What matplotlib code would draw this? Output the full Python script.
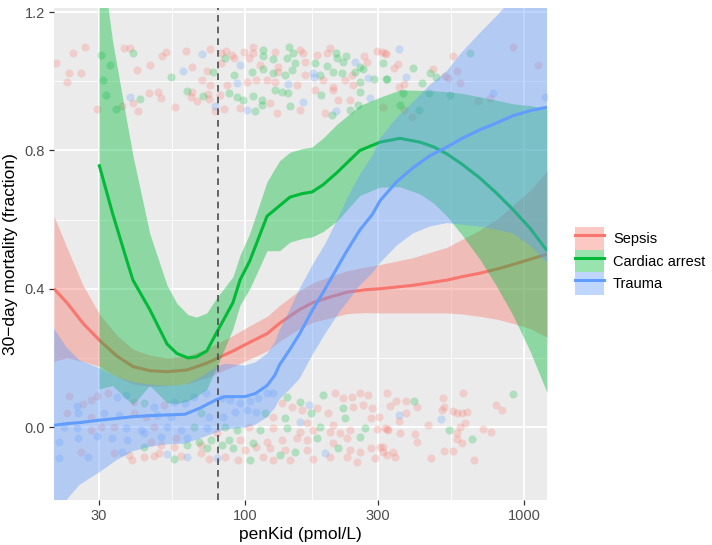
import matplotlib
matplotlib.use("Agg")
import matplotlib.pyplot as plt
from matplotlib.patches import Patch
from matplotlib.lines import Line2D
from matplotlib.ticker import FixedLocator, NullFormatter

plt.rcParams['font.family'] = ['Liberation Sans', 'DejaVu Sans']

groups = ["Sepsis", "Cardiac arrest", "Trauma"]
colors = ["#F8766D", "#00BA38", "#619CFF"]
cutoff = 80

# loess fits: x, fitted value, half width of the band
sepsis_x = [20.7, 23.0, 26.3, 30.2, 34.8, 39.7, 45.6, 52.6, 62.0, 73.1, 90.6, 104, 120, 133,
            157, 175, 200, 232, 270, 305, 400, 529, 600, 695, 800, 910, 1050, 1208]
sepsis_fit = [0.40, 0.36, 0.30, 0.25, 0.205, 0.175, 0.163, 0.16, 0.165, 0.185, 0.22, 0.245,
              0.27, 0.30, 0.34, 0.36, 0.375, 0.39, 0.397, 0.40, 0.41, 0.425, 0.435, 0.445,
              0.457, 0.47, 0.485, 0.50]
sepsis_se = [0.21, 0.16, 0.11, 0.075, 0.06, 0.05, 0.045, 0.04, 0.04, 0.042, 0.045, 0.048,
             0.05, 0.052, 0.055, 0.057, 0.06, 0.062, 0.066, 0.07, 0.08, 0.095, 0.108, 0.125,
             0.145, 0.17, 0.2, 0.24]

cardiac_x = [30, 33.5, 37.8, 39.7, 45.6, 52.6, 57, 62.5, 67, 73, 79.4, 90.6, 96, 104, 120, 133,
             145, 160, 174, 190, 213, 258, 305, 359, 424, 475, 529, 600, 695, 800, 910, 1050,
             1208]
cardiac_fit = [0.76, 0.62, 0.48, 0.425, 0.34, 0.24, 0.213, 0.20, 0.203, 0.22, 0.275, 0.36,
               0.425, 0.48, 0.61, 0.64, 0.665, 0.675, 0.68, 0.70, 0.735, 0.80, 0.824, 0.835,
               0.824, 0.81, 0.79, 0.76, 0.72, 0.675, 0.63, 0.575, 0.51]
cardiac_se = [0.65, 0.5, 0.4, 0.36, 0.22, 0.17, 0.145, 0.125, 0.115, 0.11, 0.1, 0.075, 0.072,
              0.08, 0.1, 0.13, 0.13, 0.13, 0.13, 0.135, 0.14, 0.13, 0.13, 0.14, 0.15, 0.163,
              0.18, 0.205, 0.235, 0.27, 0.305, 0.355, 0.41]

trauma_x = [20.7, 23.0, 25.6, 30.2, 34.8, 39.7, 45.6, 52.6, 61.0, 69.0, 79.4, 84.8, 100, 109,
            120, 128, 133, 145, 157, 175, 194, 219, 232, 258, 286, 305, 350, 400, 460, 529,
            600, 695, 800, 910, 1050, 1208]
trauma_fit = [0.005, 0.01, 0.013, 0.02, 0.025, 0.03, 0.033, 0.035, 0.037, 0.055, 0.08, 0.088,
              0.088, 0.097, 0.12, 0.15, 0.18, 0.225, 0.27, 0.34, 0.40, 0.475, 0.51, 0.57,
              0.615, 0.655, 0.71, 0.75, 0.785, 0.81, 0.835, 0.86, 0.88, 0.90, 0.915, 0.925]
trauma_se = [0.28, 0.22, 0.18, 0.15, 0.12, 0.10, 0.09, 0.085, 0.085, 0.088, 0.095, 0.095, 0.09,
             0.09, 0.092, 0.095, 0.10, 0.115, 0.13, 0.13, 0.13, 0.14, 0.15, 0.16, 0.17, 0.18,
             0.185, 0.19, 0.205, 0.22, 0.25, 0.28, 0.31, 0.34, 0.39, 0.45]

# jittered patients (penKid, outcome + jitter)
sepsis_pts = [
    (21.0, 1.053), (24.2, 1.082), (26.7, 1.099), (23.4, 1.024), (25.8, 1.024), (23.0, 0.998),
    (29.5, 0.920), (36.8, 1.096), (38.7, 1.096), (41.0, 1.032), (45.6, 1.047), (50.4, 1.073),
    (52.1, 1.084), (45.2, 0.966), (48.7, 0.969), (50.0, 0.951), (39.7, 0.937), (41.3, 0.914),
    (36.2, 0.928), (56.1, 0.925), (61.5, 1.087), (64.5, 1.041), (74.9, 1.093), (73.1, 1.029),
    (70.1, 1.003), (74.9, 0.989), (64.5, 0.969), (64.0, 0.954), (67.3, 0.943), (73.6, 0.963),
    (74.3, 0.949), (78.0, 0.914), (82.0, 1.082), (82.0, 1.053), (85.6, 1.087), (89.8, 1.076),
    (99.2, 1.084), (107, 1.099), (107, 1.082), (128, 1.084), (157, 1.090), (161, 1.082),
    (181, 1.076), (197, 1.082), (202, 1.096), (267, 1.073), (297, 1.087), (318, 1.082),
    (91.3, 1.067), (103, 1.067), (113, 1.047), (131, 1.041), (164, 1.056), (274, 1.056),
    (131, 1.027), (164, 1.018), (242, 1.018), (86.3, 0.989), (102, 0.998), (110, 1.003),
    (120, 1.003), (128, 0.998), (154, 0.989), (190, 1.003), (206, 0.983), (228, 1.003),
    (244, 0.989), (81.3, 0.960), (178, 0.975), (206, 0.975), (215, 0.946), (238, 0.946),
    (84.1, 0.920), (96.0, 0.922), (123, 0.937), (130, 0.908), (157, 0.917), (194, 0.908),
    (310, 1.084), (320, 1.079), (352, 1.050), (342, 1.038), (355, 0.983), (372, 0.992),
    (472, 1.035), (521, 1.015), (533, 1.009), (555, 1.073), (576, 1.029), (590, 0.995),
    (372, 0.917), (313, 0.925), (397, 0.896), (684, 0.943), (755, 0.951), (910, 1.099),
    (1120, 1.047),
    (23.4, 0.090), (26.4, 0.067), (28.1, 0.078), (29.5, 0.090), (32.3, 0.098), (40.0, 0.072),
    (51.3, 0.064), (23.0, 0.040), (28.1, 0.029), (40.0, 0.040), (44.2, 0.029), (28.1, -0.009),
    (30.5, 0.0), (33.9, 0.0), (47.2, 0.0), (46.0, -0.043), (56.5, -0.032), (79.4, -0.017),
    (25.8, -0.072), (33.9, -0.075), (38.4, -0.081), (39.4, -0.095), (43.5, -0.087),
    (47.2, -0.084), (49.1, -0.075), (59.0, -0.084), (69.6, -0.075), (74.3, -0.093),
    (50.0, -0.052), (55.6, -0.058), (69.6, -0.052),
    (136, 0.069), (181, 0.055), (210, 0.098), (224, 0.084), (242, 0.087), (258, 0.098),
    (276, 0.093), (323, 0.098), (147, 0.058), (160, 0.049), (198, 0.040), (244, 0.058),
    (265, 0.064), (286, 0.055), (284, 0.026), (206, 0.006), (167, 0.012), (126, 0.029),
    (103, 0.0), (126, -0.003), (157, -0.014), (175, -0.009), (202, -0.014), (219, -0.017),
    (238, -0.009), (297, -0.006), (323, -0.006), (232, -0.032), (206, -0.046), (167, -0.038),
    (154, -0.032), (136, -0.038), (120, -0.043), (96.0, -0.038), (100, -0.067), (110, -0.058),
    (123, -0.061), (139, -0.067), (167, -0.067), (238, -0.067), (258, -0.072), (284, -0.061),
    (313, -0.058), (84.8, -0.087), (94.4, -0.095), (116, -0.087), (126, -0.095), (145, -0.095),
    (175, -0.093), (202, -0.087), (232, -0.087), (292, -0.090), (252, -0.101),
    (348, 0.075), (378, 0.075), (331, 0.061), (413, 0.058), (378, 0.040), (355, 0.017),
    (302, 0.029), (513, 0.084), (605, 0.098), (517, 0.058), (509, 0.049), (555, 0.046),
    (576, 0.040), (600, 0.040), (625, 0.043), (615, 0.012), (590, 0.0), (452, 0.006),
    (318, -0.003), (326, -0.009), (359, -0.017), (407, -0.020), (413, -0.043), (576, -0.017),
    (576, -0.035), (600, -0.046), (711, -0.006), (762, -0.014), (792, 0.064), (835, 0.049),
    (305, -0.058), (313, -0.072), (340, -0.072), (345, -0.087), (517, -0.069), (555, -0.069),
    (465, -0.090), (660, -0.095), (323, -0.081),
]
cardiac_pts = [
    (30.5, 1.076), (39.7, 1.082), (32.8, 1.047), (31.0, 1.003), (31.8, 0.960), (34.5, 0.920),
    (42.0, 0.949), (54.3, 1.012), (62.0, 0.972), (70.7, 0.957), (76.8, 1.027), (116, 1.090),
    (116, 1.073), (144, 1.099), (149, 1.082), (212, 1.082), (231, 1.073), (313, 1.053),
    (84.8, 1.067), (126, 1.064), (141, 1.067), (151, 1.053), (178, 1.053), (197, 1.044),
    (213, 1.067), (225, 1.056), (258, 1.041), (91.3, 1.018), (106, 1.027), (116, 1.035),
    (126, 1.024), (139, 1.018), (147, 1.032), (186, 1.018), (206, 1.027), (223, 1.024),
    (248, 1.027), (265, 1.035), (289, 1.006), (321, 1.006), (258, 0.998), (87.6, 0.966),
    (93.6, 0.954), (98.4, 0.946), (107, 0.957), (115, 0.946), (128, 0.975), (136, 0.969),
    (143, 0.966), (188, 0.960), (258, 0.969), (254, 0.931), (109, 0.914), (115, 0.931),
    (145, 0.928), (205, 0.902), (238, 0.917), (400, 1.038), (323, 1.006), (432, 0.995),
    (460, 1.024), (484, 1.012), (640, 1.082), (369, 0.966), (456, 0.966), (543, 0.960),
    (359, 0.931), (420, 0.917),
    (43.5, 0.069), (69.6, 0.040), (65.6, 0.0), (68.4, -0.043), (75.6, -0.038), (55.6, -0.093),
    (43.5, -0.058), (62.0, -0.052), (73.1, -0.061), (141, 0.087), (157, 0.072), (190, 0.093),
    (172, 0.040), (224, 0.055), (228, 0.026), (186, 0.0), (139, 0.026), (118, 0.040),
    (84.8, 0.0), (93.6, -0.009), (113, -0.009), (141, -0.003), (269, -0.003), (258, -0.029),
    (181, -0.032), (107, -0.046), (87.6, -0.038), (82.7, -0.052), (90.6, -0.061),
    (151, -0.072), (215, -0.061), (104, -0.095), (133, -0.081), (403, 0.075), (538, -0.009),
    (650, -0.035), (910, 0.095),
]
trauma_pts = [
    (70.1, 1.079), (59.9, 1.029), (38.7, 0.954), (78.0, 0.928), (96.0, 1.047), (175, 1.024),
    (93.6, 0.995), (143, 0.992), (177, 1.012), (276, 1.009), (248, 1.056), (281, 0.951),
    (161, 0.940), (102, 0.917), (212, 0.914), (356, 1.093), (378, 1.012), (775, 0.966),
    (1190, 0.954),
    (25.0, 0.061), (34.8, 0.087), (37.5, 0.093), (47.2, 0.058), (55.6, 0.072), (61.0, 0.069),
    (65.6, 0.087), (72.5, 0.098), (25.3, 0.040), (31.3, 0.040), (35.4, 0.035), (48.3, 0.035),
    (54.3, 0.029), (74.3, 0.029), (22.4, 0.0), (25.0, -0.003), (37.5, -0.003), (42.4, -0.009),
    (52.6, 0.0), (59.0, -0.009), (73.1, -0.003), (21.5, -0.043), (25.3, -0.032),
    (29.5, -0.026), (33.3, -0.032), (37.8, -0.038), (43.5, -0.017), (49.9, -0.029),
    (62.0, -0.032), (27.5, -0.087), (21.5, -0.090), (36.2, -0.072), (52.6, -0.078),
    (62.0, -0.087), (79.4, -0.090), (82.7, 0.084), (88.3, 0.078), (96.0, 0.069), (104, 0.075),
    (111, 0.084), (120, 0.098), (126, 0.098), (169, 0.064), (157, 0.014), (110, 0.043),
    (102, 0.049), (92.1, 0.043), (83.4, 0.029), (194, -0.075), (355, 0.035), (504, 0.023),
]

curves = [(sepsis_x, sepsis_fit, sepsis_se), (cardiac_x, cardiac_fit, cardiac_se),
          (trauma_x, trauma_fit, trauma_se)]
points = [sepsis_pts, cardiac_pts, trauma_pts]

fig = plt.figure(figsize=(7.12, 5.45), dpi=100)
ax = fig.add_axes([54 / 712, 45 / 545, 493 / 712, 492 / 545])
ax.set_facecolor("#EBEBEB")

for pts, col in zip(points, colors):
    px, py = zip(*pts)
    ax.scatter(px, py, s=34, color=col, alpha=0.25, linewidths=0, zorder=2)

handles = []
for (cx, cy, cs), col in zip(curves, colors):
    lo = [y - s for y, s in zip(cy, cs)]
    hi = [y + s for y, s in zip(cy, cs)]
    ax.fill_between(cx, lo, hi, color=col, alpha=0.4, linewidth=0, zorder=3)
    ax.plot(cx, cy, color=col, lw=2.2, zorder=3, solid_capstyle="butt",
            solid_joinstyle="round")
    handles.append((Patch(facecolor=col, alpha=0.4, edgecolor="none"),
                    Line2D([], [], color=col, lw=2.2)))

ax.axvline(cutoff, color="#4D4D4D", lw=1.2, ls=(0, (4, 3)), zorder=4)

ax.set_xscale("log")
ax.set_xlim(20.7, 1208)
ax.set_ylim(-0.211, 1.212)
ax.xaxis.set_major_locator(FixedLocator([30, 100, 300, 1000]))
ax.xaxis.set_minor_locator(FixedLocator([54.8, 173.2, 547.7]))
ax.xaxis.set_major_formatter(plt.FuncFormatter(lambda v, p: f"{v:g}"))
ax.xaxis.set_minor_formatter(NullFormatter())
ax.yaxis.set_major_locator(FixedLocator([0.0, 0.4, 0.8, 1.2]))
ax.yaxis.set_minor_locator(FixedLocator([0.2, 0.6, 1.0]))
ax.yaxis.set_major_formatter(plt.FuncFormatter(lambda v, p: f"{v:.1f}"))

ax.set_axisbelow(True)
ax.grid(which="major", color="white", lw=1.3)
ax.grid(which="minor", color="white", lw=0.6)
for sp in ax.spines.values():
    sp.set_visible(False)
ax.tick_params(which="major", length=3.5, width=0.9, color="#333333",
               labelcolor="#4D4D4D", labelsize=10.5, pad=3)
ax.tick_params(which="minor", length=0)

ax.set_xlabel("penKid (pmol/L)", fontsize=12.5, labelpad=3)
ax.set_ylabel("30\u2212day mortality (fraction)", fontsize=12.5, labelpad=5)

fig.legend(handles, groups, loc="center left", bbox_to_anchor=(575 / 712, 1 - 261 / 545),
           frameon=False, fontsize=10.5, handlelength=2.0, handleheight=2.0,
           labelspacing=0.0, handletextpad=0.6, borderpad=0, borderaxespad=0)

fig.savefig("out.png", dpi=100)
